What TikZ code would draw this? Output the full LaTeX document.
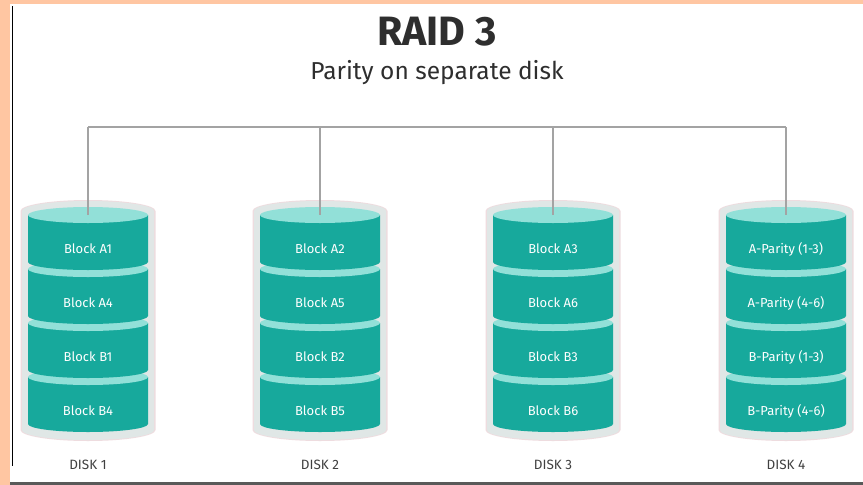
\documentclass[tikz,border=0pt]{standalone}
\usepackage{fontspec}
\setmainfont{Fira Sans}
\definecolor{peach}{HTML}{FFC6A2}
\definecolor{tealbody}{HTML}{17A99C}
\definecolor{teallt}{HTML}{92E0D8}
\definecolor{shellc}{HTML}{E0E7E6}
\definecolor{shelledge}{HTML}{EEDCDF}
\definecolor{linegray}{HTML}{A3A3A3}
\definecolor{titlec}{HTML}{2E2E2E}
\tikzset{
  blk/.style={text=white, font=\fontsize{13}{14}\selectfont, inner sep=0pt},
  disklbl/.style={text=black!75, font=\fontsize{13.5}{14}\selectfont, inner sep=0pt},
  conn/.style={draw=linegray, line width=1.4pt},
}
\begin{document}
\begin{tikzpicture}[x=1pt,y=-1pt]
\useasboundingbox (0,0) rectangle (863,485);
\fill[white] (0,0) rectangle (863,485);
% frame pieces
\fill[peach] (0,0) rectangle (863,3.5);
\fill[peach] (0,0) rectangle (9.5,485);
\draw[black, line width=1.3pt] (12.5,6) -- (12.5,466);
\fill[black!65] (9.5,481.5) rectangle (863,485);
% title
\node[text=titlec, font=\fontsize{41}{43}\selectfont\bfseries, inner sep=0pt] (title) at (437,32) {RAID 3};
\node[text=titlec, font=\fontsize{24.5}{26}\selectfont, inner sep=0pt] (subtitle) at (437,73) {Parity on separate disk};
% disks
\foreach \cx/\d/\ta/\tb/\tc/\td in {88/1/Block A1/Block A4/Block B1/Block B4,
                                    320/2/Block A2/Block A5/Block B2/Block B5,
                                    553/3/Block A3/Block A6/Block B3/Block B6,
                                    786/4/A-Parity (1-3)/A-Parity (4-6)/B-Parity (1-3)/B-Parity (4-6)} {
  % outer shell
  \fill[shelledge] (\cx-67.5,211) -- (\cx-67.5,430) arc[start angle=180, end angle=360, x radius=67.5pt, y radius=11pt] -- (\cx+67.5,211) arc[start angle=0, end angle=180, x radius=67.5pt, y radius=11pt] -- cycle;
  \fill[shellc] (\cx-66,211) -- (\cx-66,430) arc[start angle=180, end angle=360, x radius=66pt, y radius=10pt] -- (\cx+66,211) arc[start angle=0, end angle=180, x radius=66pt, y radius=10pt] -- cycle;
  % sections, bottom first
  \foreach \k/\t in {3/\td,2/\tc,1/\tb,0/\ta} {
    \pgfmathsetmacro{\yt}{215+54*\k}
    \fill[tealbody] (\cx-60,\yt) -- (\cx-60,\yt+47) arc[start angle=180, end angle=360, x radius=60pt, y radius=8pt] -- (\cx+60,\yt) -- cycle;
    \fill[teallt] (\cx,\yt) ellipse[x radius=60pt, y radius=8pt];
    \node[blk] (b\d-\k) at (\cx,\yt+34) {\t};
  }
  \node[disklbl] (disk\d) at (\cx,465) {DISK \d};
  \coordinate (top\d) at (\cx,215);
  \coordinate (bus\d) at (\cx,127);
}
% connectors
\draw[conn] (bus1) -- (bus4);
\foreach \d in {1,2,3,4} { \draw[conn] (bus\d) -- (top\d); }
\end{tikzpicture}
\end{document}
